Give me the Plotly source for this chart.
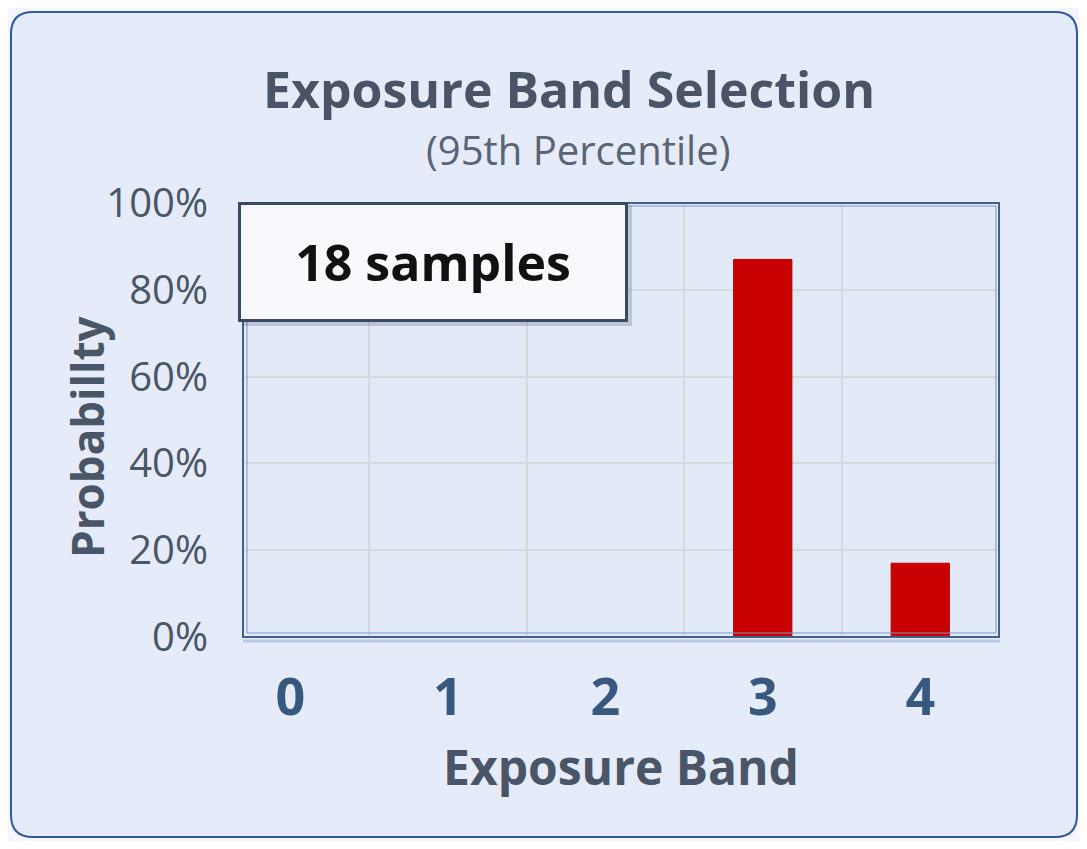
import plotly.graph_objects as go

# ---- data ----
bands = ["0", "1", "2", "3", "4"]
probability = [0.0, 0.0, 0.0, 0.87, 0.17]
y_ticks = [0, 0.2, 0.4, 0.6, 0.8, 1.0]
y_tick_labels = ["0%", "20%", "40%", "60%", "80%", "100%"]
title_text = "Exposure Band Selection"
subtitle_text = "(95th Percentile)"
sample_text = "18 samples"
x_title = "Exposure Band"
y_title = "Probabillty"

W, H = 1087, 849
OFF = 8  # page body margin
FW, FH = W - 2 * OFF, H - 2 * OFF
L, R, T, B = 243, 999, 203, 637   # plot area in page pixels


def px(x):
    return (x - L) / (R - L)


def py(y):
    return (B - y) / (B - T)


def rounded_rect(x0, y0, x1, y1, r):
    rx = r / (R - L)
    ry = r / (B - T)
    X0, X1 = px(x0), px(x1)
    Y0, Y1 = py(y0), py(y1)
    return (f"M {X0+rx},{Y0} L {X1-rx},{Y0} Q {X1},{Y0} {X1},{Y0-ry} "
            f"L {X1},{Y1+ry} Q {X1},{Y1} {X1-rx},{Y1} L {X0+rx},{Y1} "
            f"Q {X0},{Y1} {X0},{Y1+ry} L {X0},{Y0-ry} Q {X0},{Y0} {X0+rx},{Y0} Z")


FONT = "Open Sans"

fig = go.Figure()
fig.add_trace(go.Bar(
    x=bands, y=probability,
    marker=dict(color="#c80000", line=dict(color="#b00000", width=1)),
    width=0.37,
    hoverinfo="skip",
))

shapes = [
    dict(type="path", xref="paper", yref="paper", path=rounded_rect(11, 12, 1077, 837, 22),
         fillcolor="#e5ebf8", line=dict(color="#2c57a3", width=2), layer="below"),
    dict(type="rect", xref="paper", yref="paper", x0=0, y0=0, x1=1, y1=1,
         fillcolor="#e3eaf7", line=dict(width=0), layer="below"),
    dict(type="line", xref="paper", yref="paper", x0=px(243), x1=px(1000), y0=py(641), y1=py(641),
         line=dict(color="#b8c8e4", width=3), layer="below"),
    dict(type="rect", xref="paper", yref="paper", x0=0, y0=0, x1=1, y1=1,
         line=dict(color="#3f6090", width=2), layer="above"),
    dict(type="rect", xref="paper", yref="paper", x0=px(247), y0=py(633), x1=px(996), y1=py(206),
         line=dict(color="#7c95bd", width=1), layer="above"),
    dict(type="rect", xref="paper", yref="paper", x0=px(242), y0=py(326), x1=px(632), y1=py(206),
         fillcolor="rgba(70,85,110,0.25)", line=dict(width=0), layer="above"),
]

annotations = [
    dict(text=f"<b>{title_text}</b>", x=px(569), y=py(89), xref="paper", yref="paper",
         showarrow=False, xanchor="center", yanchor="middle",
         font=dict(family=FONT, size=50, color="#4a5466")),
    dict(text=subtitle_text, x=px(578), y=py(150), xref="paper", yref="paper",
         showarrow=False, xanchor="center", yanchor="middle",
         font=dict(family=FONT, size=40, color="#5a6476")),
    dict(text=f"<b>{x_title}</b>", x=px(621), y=py(766), xref="paper", yref="paper",
         showarrow=False, xanchor="center", yanchor="middle",
         font=dict(family=FONT, size=48, color="#4a5568")),
    dict(text=f"<b>{y_title}</b>", x=px(87), y=py(437), xref="paper", yref="paper",
         showarrow=False, xanchor="center", yanchor="middle", textangle=-90,
         font=dict(family=FONT, size=44, color="#4a5568")),
    dict(text=f"<b>{sample_text}</b>", x=px(433), y=py(262), xref="paper", yref="paper",
         showarrow=False, xanchor="center", yanchor="middle",
         width=384, height=114, bgcolor="#f8f9fd", bordercolor="#3a4a60",
         borderwidth=3, borderpad=0,
         font=dict(family=FONT, size=50, color="#111111")),
]

fig.update_layout(
    width=FW, height=FH,
    margin=dict(l=L - OFF, r=FW - (R - OFF), t=T - OFF, b=FH - (B - OFF), pad=0),
    paper_bgcolor="#f4f6fb",
    plot_bgcolor="rgba(0,0,0,0)",
    showlegend=False,
    shapes=shapes,
    annotations=annotations,
    xaxis=dict(
        type="category", range=[-0.3, 4.5], tickson="boundaries",
        showgrid=True, gridcolor="#d4d8df", gridwidth=1.5,
        showline=False, zeroline=False,
        ticks="", ticklabelstandoff=25,
        tickfont=dict(family=FONT, size=52, color="#38597f", weight="bold"),
    ),
    yaxis=dict(
        range=[0, 1.0], tickvals=y_ticks, ticktext=y_tick_labels,
        showgrid=True, gridcolor="#d4d8df", gridwidth=1.5,
        showline=False, zeroline=False,
        ticks="", ticklabelstandoff=34,
        tickfont=dict(family=FONT, size=40, color="#4a5568", weight=500),
    ),
)

fig.write_html("out.html")
